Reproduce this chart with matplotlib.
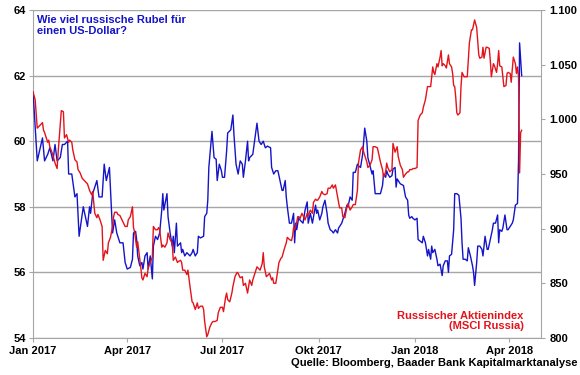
import matplotlib
matplotlib.use('Agg')
import matplotlib.pyplot as plt
import pandas as pd

START = pd.Timestamp('2017-01-01')

# Rubel je US-Dollar (linke Achse), Tage seit 1.1.2017
rub_days = [0, 4, 9, 11, 14, 16, 19, 21, 23, 26, 28, 30, 33, 34, 37, 40, 42, 44, 48, 52,
            54, 55, 57, 61, 63, 66, 68, 70, 73, 76, 78, 80, 83, 86, 88, 90, 93, 95, 96, 98,
            99, 100, 102, 104, 105, 107, 109, 110, 112, 114, 115, 117, 119, 121, 123, 124, 125, 128, 129, 131,
            133, 134, 135, 137, 138, 141, 142, 143, 145, 147, 150, 152, 153, 155, 157, 158, 160, 163, 164, 166,
            167, 168, 171, 173, 175, 176, 178, 180, 181, 183, 185, 186, 189, 191, 192, 194, 196, 198, 200, 201,
            203, 205, 206, 207, 210, 214, 216, 218, 220, 222, 224, 227, 228, 230, 232, 234, 236, 238, 239, 241,
            242, 243, 245, 247, 249, 250, 251, 252, 254, 255, 258, 260, 262, 263, 265, 267, 270, 271, 272, 274,
            276, 277, 279, 281, 282, 284, 286, 287, 289, 291, 292, 293, 295, 296, 298, 300, 301, 303, 305, 306,
            308, 310, 311, 313, 315, 317, 319, 320, 322, 324, 325, 327, 329, 332, 334, 335, 337, 338, 339, 341,
            343, 344, 346, 347, 348, 351, 354, 356, 358, 359, 360, 362, 363, 365, 367, 368, 370, 372, 373, 375,
            377, 378, 380, 381, 382, 384, 386, 387, 389, 391, 392, 394, 396, 397, 398, 400, 402, 403, 405, 407,
            409, 410, 411, 413, 415, 416, 418, 420, 421, 422, 424, 425, 427, 429, 430, 432, 434, 435, 437, 439,
            440, 442, 444, 445, 446, 448, 449, 451, 453, 454, 456, 458, 459, 461, 463, 464, 465, 466, 467]
rub_vals = [61.5, 59.4, 60.1, 59.4, 59.6, 59.8, 59.4, 59.9, 59.4, 59.5, 59.9, 59.9, 60.0, 59.0, 59.0, 58.3, 58.4, 57.1, 58.0, 57.4,
            58.0, 57.8, 58.4, 58.8, 58.3, 58.3, 59.3, 58.8, 59.2, 57.2, 57.6, 57.2, 56.9, 56.9, 56.3, 56.1, 56.15, 56.4, 57.2, 57.25,
            57.0, 56.5, 56.2, 56.3, 56.1, 56.5, 56.6, 56.1, 56.5, 55.8, 56.8, 57.1, 57.0, 57.2, 57.9, 58.4, 57.9, 58.4, 57.7, 57.2,
            56.8, 57.1, 56.6, 57.5, 56.8, 56.9, 56.6, 56.7, 56.5, 56.6, 56.5, 56.6, 56.7, 56.5, 56.6, 57.1, 57.05, 57.1, 57.7, 57.8,
            58.2, 59.2, 60.3, 59.5, 59.45, 58.8, 59.3, 59.1, 58.9, 58.9, 59.7, 60.25, 60.35, 60.8, 60.2, 59.3, 59.0, 59.4, 59.3, 58.9,
            59.4, 60.0, 59.4, 59.5, 59.6, 60.55, 60.0, 59.9, 60.0, 59.8, 59.85, 59.8, 59.2, 59.0, 59.1, 59.1, 58.8, 58.5, 58.5, 58.8,
            58.3, 58.0, 57.5, 57.5, 57.8, 56.9, 57.5, 57.3, 57.7, 57.6, 57.5, 57.9, 58.15, 57.5, 57.8, 57.5, 58.05, 57.8, 57.9, 57.6,
            57.8, 58.0, 58.2, 57.8, 57.5, 57.3, 57.25, 57.2, 57.3, 57.2, 57.35, 57.4, 57.5, 57.6, 57.8, 58.05, 58.0, 58.3, 58.2, 59.05,
            59.05, 59.3, 59.25, 59.2, 59.6, 60.4, 60.0, 59.5, 59.25, 59.0, 59.1, 58.4, 58.4, 58.4, 58.65, 59.0, 58.9, 59.1, 59.0, 58.9,
            58.95, 59.15, 59.2, 58.6, 58.85, 58.7, 58.65, 58.3, 58.2, 57.75, 57.65, 57.7, 57.65, 57.6, 57.65, 57.0, 56.95, 56.9, 57.1, 56.9,
            56.5, 56.7, 56.4, 56.8, 56.6, 56.7, 56.4, 56.2, 56.25, 55.9, 56.2, 56.35, 56.35, 56.0, 56.5, 56.55, 57.3, 58.4, 58.4, 58.35,
            57.65, 56.9, 56.4, 56.4, 56.35, 56.75, 56.5, 56.2, 56.0, 55.6, 56.3, 56.8, 56.8, 56.7, 56.5, 57.1, 56.7, 56.7, 57.0, 57.3,
            57.5, 57.5, 57.75, 56.9, 57.3, 57.25, 57.35, 57.75, 57.3, 57.3, 57.4, 57.5, 57.6, 58.05, 58.1, 59.4, 63.0, 62.5, 62.0]

# MSCI Russia (rechte Achse)
msci_days = [0, 2, 4, 9, 10, 11, 14, 15, 16, 18, 19, 21, 23, 24, 27, 29, 30, 32, 34, 35,
             37, 38, 40, 42, 43, 45, 47, 48, 50, 52, 53, 54, 56, 57, 59, 61, 62, 64, 66, 67,
             69, 71, 72, 74, 76, 77, 78, 80, 81, 83, 86, 88, 90, 91, 93, 95, 96, 97, 99, 100,
             101, 103, 104, 105, 107, 109, 110, 112, 114, 115, 117, 119, 120, 121, 123, 124, 126, 128, 129, 131,
             133, 134, 136, 138, 139, 141, 142, 143, 145, 147, 148, 150, 152, 153, 155, 157, 158, 160, 162, 163,
             164, 166, 167, 169, 171, 172, 174, 176, 177, 179, 181, 182, 184, 185, 186, 188, 190, 191, 193, 195,
             196, 198, 200, 201, 203, 205, 206, 207, 209, 210, 212, 214, 215, 217, 219, 220, 221, 223, 224, 226,
             228, 229, 230, 232, 233, 235, 237, 238, 240, 242, 243, 245, 247, 248, 249, 250, 252, 253, 255, 257,
             258, 260, 262, 263, 265, 267, 268, 270, 271, 272, 274, 276, 277, 279, 281, 282, 284, 286, 287, 289,
             291, 292, 293, 295, 296, 298, 300, 301, 303, 305, 306, 308, 310, 311, 313, 315, 316, 317, 319, 320,
             322, 324, 325, 327, 329, 330, 332, 334, 335, 337, 338, 339, 341, 343, 344, 346, 348, 349, 351, 353,
             354, 356, 358, 359, 360, 362, 363, 365, 367, 368, 370, 372, 373, 375, 376, 377, 379, 380, 381, 382,
             383, 384, 386, 387, 389, 390, 391, 392, 394, 395, 397, 398, 400, 401, 402, 403, 404, 405, 406, 408,
             409, 410, 412, 414, 415, 417, 419, 420, 422, 424, 425, 426, 427, 429, 430, 431, 433, 434, 436, 437,
             438, 440, 441, 443, 444, 445, 446, 448, 449, 450, 452, 453, 454, 456, 457, 458, 459, 461, 462, 463,
             464, 465, 466, 467]
msci_vals = [1025, 1018, 992, 997, 990, 988, 979, 981, 975, 970, 967, 960, 955, 970, 1008, 1007, 983, 986, 979, 981,
             979, 972, 963, 961, 954, 951, 946, 945, 943, 941, 938, 935, 931, 934, 914, 910, 913, 908, 902, 871,
             880, 877, 887, 892, 902, 911, 915, 915, 913, 912, 906, 902, 902, 908, 911, 920, 901, 897, 883, 888,
             880, 864, 855, 853, 859, 856, 864, 869, 874, 902, 899, 899, 901, 899, 883, 885, 883, 887, 896, 890,
             887, 871, 874, 869, 870, 871, 869, 862, 862, 858, 862, 847, 833, 832, 826, 832, 827, 829, 829, 826,
             815, 801, 803, 810, 814, 815, 815, 816, 823, 828, 828, 824, 837, 841, 835, 833, 841, 847, 856, 860,
             859, 855, 856, 848, 850, 841, 847, 853, 848, 853, 859, 865, 864, 862, 868, 878, 865, 856, 857, 859,
             853, 855, 850, 850, 856, 869, 873, 874, 881, 887, 892, 890, 889, 893, 901, 899, 906, 911, 909, 914,
             912, 908, 914, 912, 917, 914, 924, 927, 926, 926, 929, 934, 932, 931, 932, 937, 937, 940, 937, 940,
             929, 924, 919, 919, 911, 910, 920, 923, 917, 920, 922, 922, 935, 960, 972, 975, 970, 967, 961, 956,
             958, 963, 975, 975, 974, 970, 961, 954, 947, 952, 960, 956, 952, 954, 978, 970, 975, 966, 958, 954,
             947, 950, 952, 952, 954, 954, 955, 955, 956, 999, 1004, 1006, 1011, 1018, 1024, 1030, 1030, 1030, 1039, 1048,
             1043, 1041, 1051, 1048, 1057, 1063, 1049, 1051, 1049, 1047, 1059, 1051, 1048, 1042, 1031, 1030, 1020, 1006, 1004, 1006,
             1030, 1043, 1039, 1039, 1039, 1070, 1082, 1082, 1091, 1084, 1071, 1059, 1056, 1057, 1066, 1056, 1066, 1066, 1065, 1054,
             1039, 1051, 1049, 1043, 1051, 1063, 1049, 1048, 1039, 1030, 1031, 1042, 1043, 1042, 1034, 1045, 1057, 1051, 1042, 1048,
             1039, 951, 988, 990]

left_ticks = [54, 56, 58, 60, 62, 64]
right_ticks = [800, 850, 900, 950, 1000, 1050, 1100]
right_labels = ['800', '850', '900', '950', '1.000', '1.050', '1.100']
x_ticks = ['2017-01-01', '2017-04-01', '2017-07-01', '2017-10-01', '2018-01-01', '2018-04-01']
x_labels = ['Jan 2017', 'Apr 2017', 'Jul 2017', 'Okt 2017', 'Jan 2018', 'Apr 2018']

BLUE = '#1414c8'
RED = '#e3131b'
GREY = '#a6a6a6'
FS = 8

plt.rcParams['font.family'] = ['Liberation Sans', 'DejaVu Sans']
plt.rcParams['font.weight'] = 'bold'

rub_dates = START + pd.to_timedelta(rub_days, unit='D')
msci_dates = START + pd.to_timedelta(msci_days, unit='D')

fig = plt.figure(figsize=(5.8, 3.75), dpi=100)
ax = fig.add_axes([0.057, 0.099, 0.876, 0.874])
ax2 = ax.twinx()

ax.plot(rub_dates, rub_vals, color=BLUE, lw=1.0, zorder=3)
ax2.plot(msci_dates, msci_vals, color=RED, lw=1.0, zorder=2)

ax.set_xlim(START, START + pd.Timedelta(days=485.6))
ax.set_ylim(54, 64)
ax2.set_ylim(800, 1100)

ax.set_yticks(left_ticks)
ax.set_yticklabels([str(t) for t in left_ticks])
ax2.set_yticks(right_ticks)
ax2.set_yticklabels(right_labels)
ax.set_xticks(pd.to_datetime(x_ticks))
ax.set_xticklabels(x_labels)

ax.grid(axis='y', color=GREY, lw=1.0)
ax.set_axisbelow(True)
for a in (ax, ax2):
    a.spines['top'].set_visible(False)
    for s in ('left', 'right', 'bottom'):
        a.spines[s].set_color(GREY)
ax.spines['right'].set_visible(False)
ax2.spines['left'].set_visible(False)
ax2.spines['bottom'].set_visible(False)

ax.tick_params(axis='both', labelsize=FS, color=GREY, length=3, pad=2)
ax.tick_params(axis='x', pad=3)
ax2.tick_params(axis='y', labelsize=FS, color=GREY, length=3, pad=3)

ax.text(0.008, 0.985, 'Wie viel russische Rubel für\neinen US-Dollar?', transform=ax.transAxes,
        color=BLUE, fontsize=FS, fontweight='bold', va='top', ha='left', linespacing=1.1)
ax.text(0.966, 0.02, 'Russischer Aktienindex\n(MSCI Russia)', transform=ax.transAxes,
        color=RED, fontsize=FS, fontweight='bold', va='bottom', ha='right', multialignment='right',
        linespacing=1.1)
fig.text(0.995, 0.02, 'Quelle: Bloomberg, Baader Bank Kapitalmarktanalyse',
         fontsize=FS, fontweight='bold', ha='right', va='bottom')

fig.savefig('out.png', dpi=100)
